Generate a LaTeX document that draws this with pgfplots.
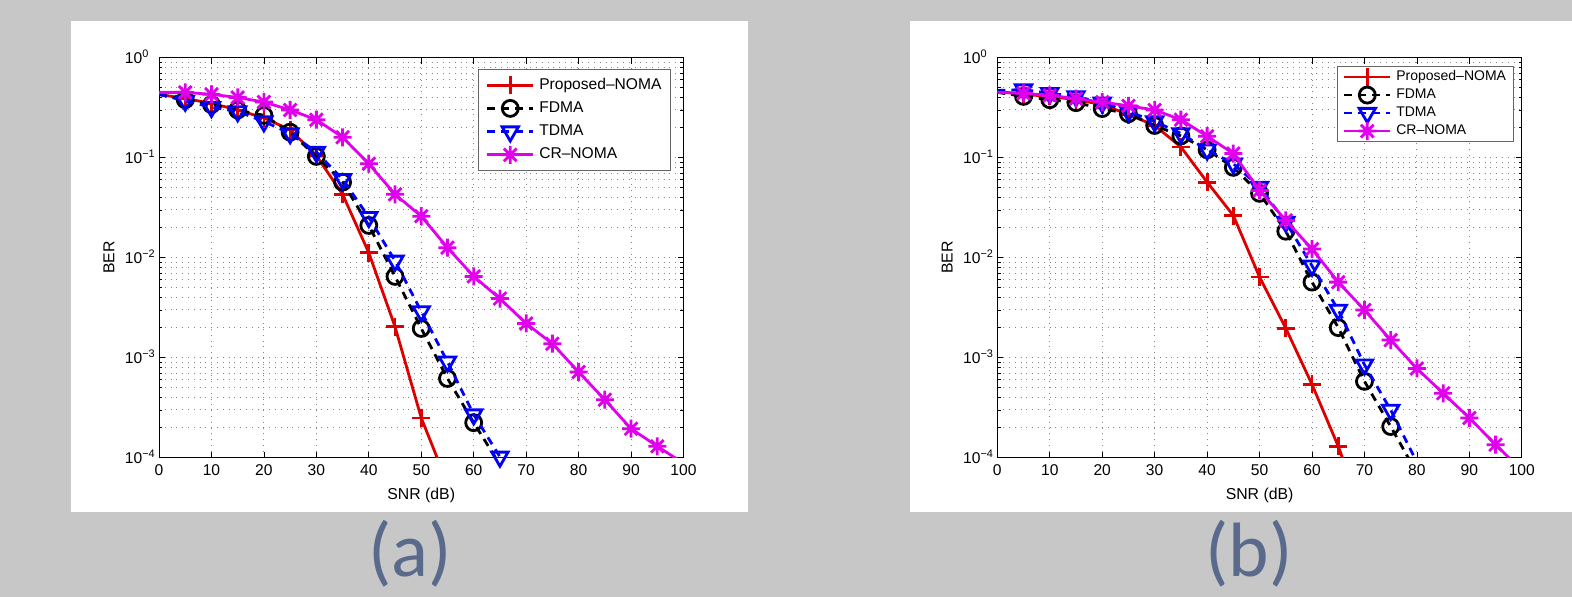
\documentclass[border=0pt]{standalone}
\usepackage{fontspec}
\setmainfont{Liberation Sans}
\newfontfamily\capfont{Carlito}
\usepackage{pgfplots}
\pgfplotsset{compat=1.18}
\usepackage{pgfplotstable}

\definecolor{bgc}{RGB}{198,199,198}
\definecolor{capc}{RGB}{90,106,140}
\definecolor{mred}{RGB}{220,0,0}
\definecolor{mblue}{RGB}{0,0,255}
\definecolor{mmag}{RGB}{224,0,235}
\definecolor{gridc}{RGB}{135,135,135}

\pgfdeclareplotmark{mstar}{%
 \pgfpathmoveto{\pgfqpoint{-\pgfplotmarksize}{0pt}}\pgfpathlineto{\pgfqpoint{\pgfplotmarksize}{0pt}}%
 \pgfpathmoveto{\pgfqpoint{0pt}{-\pgfplotmarksize}}\pgfpathlineto{\pgfqpoint{0pt}{\pgfplotmarksize}}%
 \pgfpathmoveto{\pgfqpoint{-0.7071\pgfplotmarksize}{-0.7071\pgfplotmarksize}}\pgfpathlineto{\pgfqpoint{0.7071\pgfplotmarksize}{0.7071\pgfplotmarksize}}%
 \pgfpathmoveto{\pgfqpoint{-0.7071\pgfplotmarksize}{0.7071\pgfplotmarksize}}\pgfpathlineto{\pgfqpoint{0.7071\pgfplotmarksize}{-0.7071\pgfplotmarksize}}%
 \pgfusepathqstroke}

% ---------- panel (a) ----------
\pgfplotstableread{
x y
0 0.43
5 0.39
10 0.35
15 0.30
20 0.25
25 0.19
30 0.105
35 0.043
40 0.0112
45 0.00204
50 0.00025
55 0.000055
}\apn
\pgfplotstableread{
x y
0 0.43
5 0.38
10 0.34
15 0.30
20 0.265
25 0.18
30 0.103
35 0.057
40 0.021
45 0.0065
50 0.00196
55 0.00062
60 0.000224
65 0.000085
}\afd
\pgfplotstableread{
x y
0 0.43
5 0.37
10 0.32
15 0.29
20 0.23
25 0.175
30 0.114
35 0.061
40 0.0254
45 0.0093
50 0.0029
55 0.00091
60 0.00027
65 0.000102
}\atd
\pgfplotstableread{
x y
0 0.45
5 0.45
10 0.43
15 0.40
20 0.36
25 0.30
30 0.24
35 0.16
40 0.087
45 0.043
50 0.026
55 0.0126
60 0.0065
65 0.0039
70 0.0022
75 0.00138
80 0.00072
85 0.00038
90 0.000195
95 0.00013
100 0.000088
}\acr
% ---------- panel (b) ----------
\pgfplotstableread{
x y
0 0.46
5 0.43
10 0.41
15 0.38
20 0.34
25 0.27
30 0.21
35 0.128
40 0.057
45 0.0264
50 0.0064
55 0.00197
60 0.00054
65 0.00013
70 0.000025
}\bpn
\pgfplotstableread{
x y
0 0.45
5 0.41
10 0.38
15 0.355
20 0.31
25 0.275
30 0.21
35 0.165
40 0.12
45 0.08
50 0.044
55 0.0184
60 0.0057
65 0.002
70 0.00058
75 0.000205
80 0.00007
}\bfd
\pgfplotstableread{
x y
0 0.47
5 0.48
10 0.44
15 0.41
20 0.355
25 0.29
30 0.23
35 0.175
40 0.12
45 0.087
50 0.051
55 0.0227
60 0.0083
65 0.003
70 0.00085
75 0.0003
80 0.00009
}\btd
\pgfplotstableread{
x y
0 0.45
5 0.44
10 0.42
15 0.39
20 0.36
25 0.33
30 0.30
35 0.24
40 0.164
45 0.11
50 0.047
55 0.0236
60 0.0122
65 0.0057
70 0.003
75 0.0015
80 0.00078
85 0.00044
90 0.00025
95 0.000135
100 0.000075
}\bcr

\pgfplotsset{
 berax/.style={
  scale only axis, width=262.25pt, height=200pt,
  xmin=0, xmax=100, ymin=1e-4, ymax=1,
  xtick={0,10,20,30,40,50,60,70,80,90,100},
  xticklabels={0,10,20,30,40,50,60,70,80,90,100},
  ytick={1e-4,1e-3,1e-2,1e-1,1},
  yticklabels={10\textsuperscript{−4},10\textsuperscript{−3},10\textsuperscript{−2},10\textsuperscript{−1},10\textsuperscript{0}},
  grid=both,
  grid style={gridc, line width=0.5pt, dash pattern=on 0.5pt off 2.4pt},
  minor grid style={gridc, line width=0.5pt, dash pattern=on 0.5pt off 2.4pt},
  tick align=inside, major tick length=3pt, minor tick length=1.6pt,
  tick style={black, line width=0.4pt},
  axis line style={black, line width=0.5pt},
  clip mode=individual,
  tick label style={font=\fontsize{7.8}{9}\selectfont},
  yticklabel style={anchor=base west, xshift=-17.25pt, yshift=-2.8pt, inner sep=0pt},
  xlabel={SNR (dB)}, ylabel={BER},
  label style={font=\fontsize{7.9}{9}\selectfont},
  xlabel style={at={(axis description cs:0.5,-0.0933)}, anchor=center},
  ylabel style={at={(axis description cs:-0.0954,0.5)}, anchor=center},
  legend cell align=left,
 },
 legA/.style={
  legend image code/.code={%
    \draw[##1, overlay, mark indices={2}] plot coordinates {(0pt,0pt) (11.5pt,0pt) (23pt,0pt)};
    \path[draw=none,fill=none] (0pt,-3.65pt) rectangle (23pt,3.65pt);},
  legend style={at={(1,1)}, anchor=north east, xshift=-6.25pt, yshift=-5.65pt,
    draw=gray!80!black, line width=0.5pt, inner xsep=4.5pt, inner ysep=4.2pt,
    row sep=4.3pt, font=\fontsize{7.8}{9}\selectfont,
    nodes={inner sep=0pt, text height=5.7pt, text depth=1.6pt},
    /tikz/every odd column/.append style={column sep=3pt}},
 },
 legB/.style={
  legend image code/.code={%
    \draw[##1, overlay, mark indices={2}] plot coordinates {(0pt,0pt) (11.5pt,0pt) (23pt,0pt)};
    \path[draw=none,fill=none] (0pt,-3.3pt) rectangle (23pt,3.3pt);},
  legend style={at={(1,1)}, anchor=north east, xshift=-4.15pt, yshift=-4.15pt,
    draw=gray!80!black, line width=0.5pt, inner xsep=3.5pt, inner ysep=2pt,
    row sep=2.4pt, font=\fontsize{7}{8}\selectfont,
    nodes={inner sep=0pt, text height=5.1pt, text depth=1.5pt},
    /tikz/every odd column/.append style={column sep=3pt}},
 },
 spn/.style={mred, solid, line width=1.4pt, mark=+, mark size=4.5pt, mark options={solid}},
 sfd/.style={black, dash pattern=on 4pt off 3pt, line width=1.4pt, mark=o, mark size=4pt, mark options={solid}},
 std/.style={mblue, dash pattern=on 4pt off 3pt, line width=1.4pt, mark=triangle, mark size=4.7pt, mark options={solid, rotate=180}},
 scr/.style={mmag, solid, line width=1.4pt, mark=mstar, mark size=4.5pt, mark options={solid}},
}

\begin{document}
\begin{tikzpicture}
\path[use as bounding box] (0,0) rectangle (786pt,298.5pt);
\fill[bgc] (0,0) rectangle (786pt,298.5pt);
\fill[white] (35.5pt,42.5pt) rectangle (374pt,288pt);
\fill[white] (455pt,42.5pt) rectangle (786pt,288pt);

\begin{semilogyaxis}[berax, legA, at={(79.5pt,69.65pt)}, anchor=south west]
\addplot[spn, mark indices={2,...,11}] table[x=x,y=y] {\apn};
\addlegendentry{Proposed–NOMA}
\addplot[sfd, mark indices={2,...,13}] table[x=x,y=y] {\afd};
\addlegendentry{FDMA}
\addplot[std, mark indices={2,...,14}] table[x=x,y=y] {\atd};
\addlegendentry{TDMA}
\addplot[scr, mark indices={2,...,20}] table[x=x,y=y] {\acr};
\addlegendentry{CR–NOMA}
\end{semilogyaxis}

\begin{semilogyaxis}[berax, legB, at={(498.65pt,69.65pt)}, anchor=south west]
\addplot[spn, mark indices={2,...,14}] table[x=x,y=y] {\bpn};
\addlegendentry{Proposed–NOMA}
\addplot[sfd, mark indices={2,...,16}] table[x=x,y=y] {\bfd};
\addlegendentry{FDMA}
\addplot[std, mark indices={2,...,16}] table[x=x,y=y] {\btd};
\addlegendentry{TDMA}
\addplot[scr, mark indices={2,...,20}] table[x=x,y=y] {\bcr};
\addlegendentry{CR–NOMA}
\end{semilogyaxis}

\node[font=\capfont\fontsize{38.5}{40}\selectfont, text=capc, inner sep=0pt, anchor=base] at (205pt,10.15pt) {(a)};
\node[font=\capfont\fontsize{38.5}{40}\selectfont, text=capc, inner sep=0pt, anchor=base] at (624.5pt,10.15pt) {(b)};
\end{tikzpicture}
\end{document}
